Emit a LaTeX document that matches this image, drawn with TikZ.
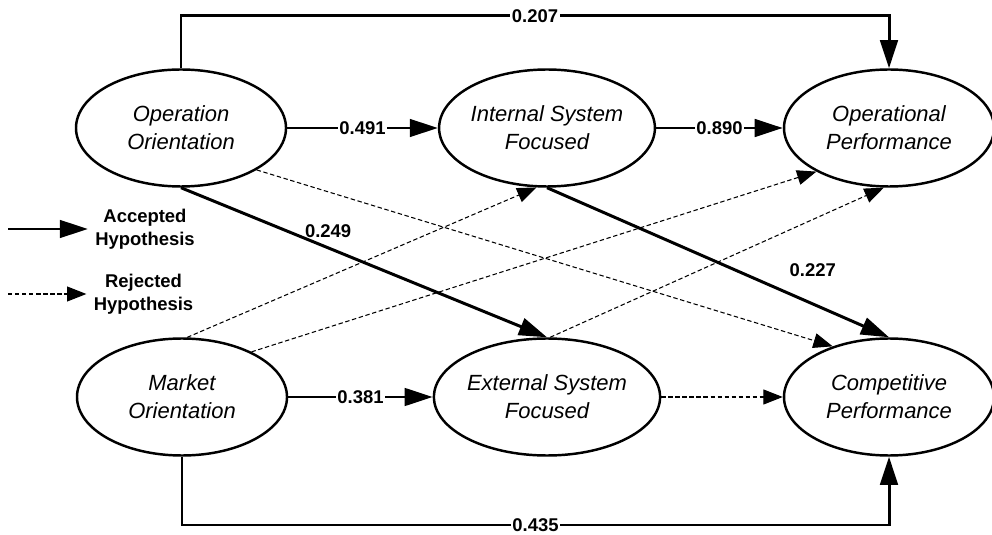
\documentclass[tikz,border=0pt]{standalone}
\usepackage{fontspec}
\setsansfont{Liberation Sans}
\usetikzlibrary{arrows.meta,shapes.geometric}

\begin{document}
\begin{tikzpicture}[
  font=\sffamily,
  construct/.style={ellipse, draw=black, line width=1.4pt, fill=white,
    minimum width=4.2cm, minimum height=2.34cm, inner sep=0pt, align=center,
    font=\sffamily\itshape\fontsize{12.5}{16}\selectfont},
  accepted/.style={-{Triangle[length=16pt,width=10pt]}, line width=1.7pt},
  rejected/.style={-{Triangle[length=11pt,width=8.5pt]}, line width=0.6pt,
    dash pattern=on 2.5pt off 1.5pt},
  coef/.style={fill=white, inner sep=1pt,
    font=\sffamily\bfseries\fontsize{10.5}{12}\selectfont},
  legend/.style={align=center, inner sep=4pt,
    font=\sffamily\bfseries\fontsize{10.5}{13}\selectfont}
]
\useasboundingbox (0,0) rectangle (19.84,10.68);

% Constructs
\node[construct] (oo) at (3.62,8.12) {Operation\\Orientation};
\node[construct] (isf) at (10.94,8.12) {Internal System\\Focused};
\node[construct] (op) at (17.78,8.12) {Operational\\Performance};
\node[construct] (mo) at (3.64,2.74) {Market\\Orientation};
\node[construct] (esf) at (10.94,2.74) {External System\\Focused};
\node[construct] (cp) at (17.78,2.74) {Competitive\\Performance};

% Rails for the outer paths
\coordinate (toprail) at (0,10.36);
\coordinate (botrail) at (0,0.18);

% Accepted paths
\draw[accepted] (oo) -- node[coef]{0.491} (isf);
\draw[accepted] (isf) -- node[coef]{0.890} (op);
\draw[accepted] (mo) -- node[coef]{0.381} (esf);
\draw[accepted] (oo.south) -- node[coef, fill=none, pos=.33, anchor=south west, yshift=-2pt]{0.249} (esf.north);
\draw[accepted] (isf.south) -- node[coef, fill=none, pos=.7, anchor=south west, yshift=7pt]{0.227} (cp.north);
\draw[accepted] (oo.north) -- (oo.north |- toprail) -- node[coef]{0.207} (op.north |- toprail) -- (op.north);
\draw[accepted] (mo.south) -- (mo.south |- botrail) -- node[coef]{0.435} (cp.south |- botrail) -- (cp.south);

% Rejected paths
\draw[rejected] (oo.-29) -- (cp.138);
\draw[rejected] (mo.85) -- (isf.-100);
\draw[rejected] (mo.33) -- (op.-149);
\draw[rejected] (esf.87) -- (op.-95);
\draw[rejected] (esf) -- (cp);

% Legend
\coordinate (acctail) at (0.16,6.1);
\node[legend] (acc) at (2.9,6.1) {Accepted\\Hypothesis};
\draw[accepted] (acctail) -- (acc.west);
\coordinate (rejtail) at (0.16,4.8);
\node[legend] (rej) at (2.87,4.8) {Rejected\\Hypothesis};
\draw[rejected] (rejtail) -- (rej.west);
\end{tikzpicture}
\end{document}
